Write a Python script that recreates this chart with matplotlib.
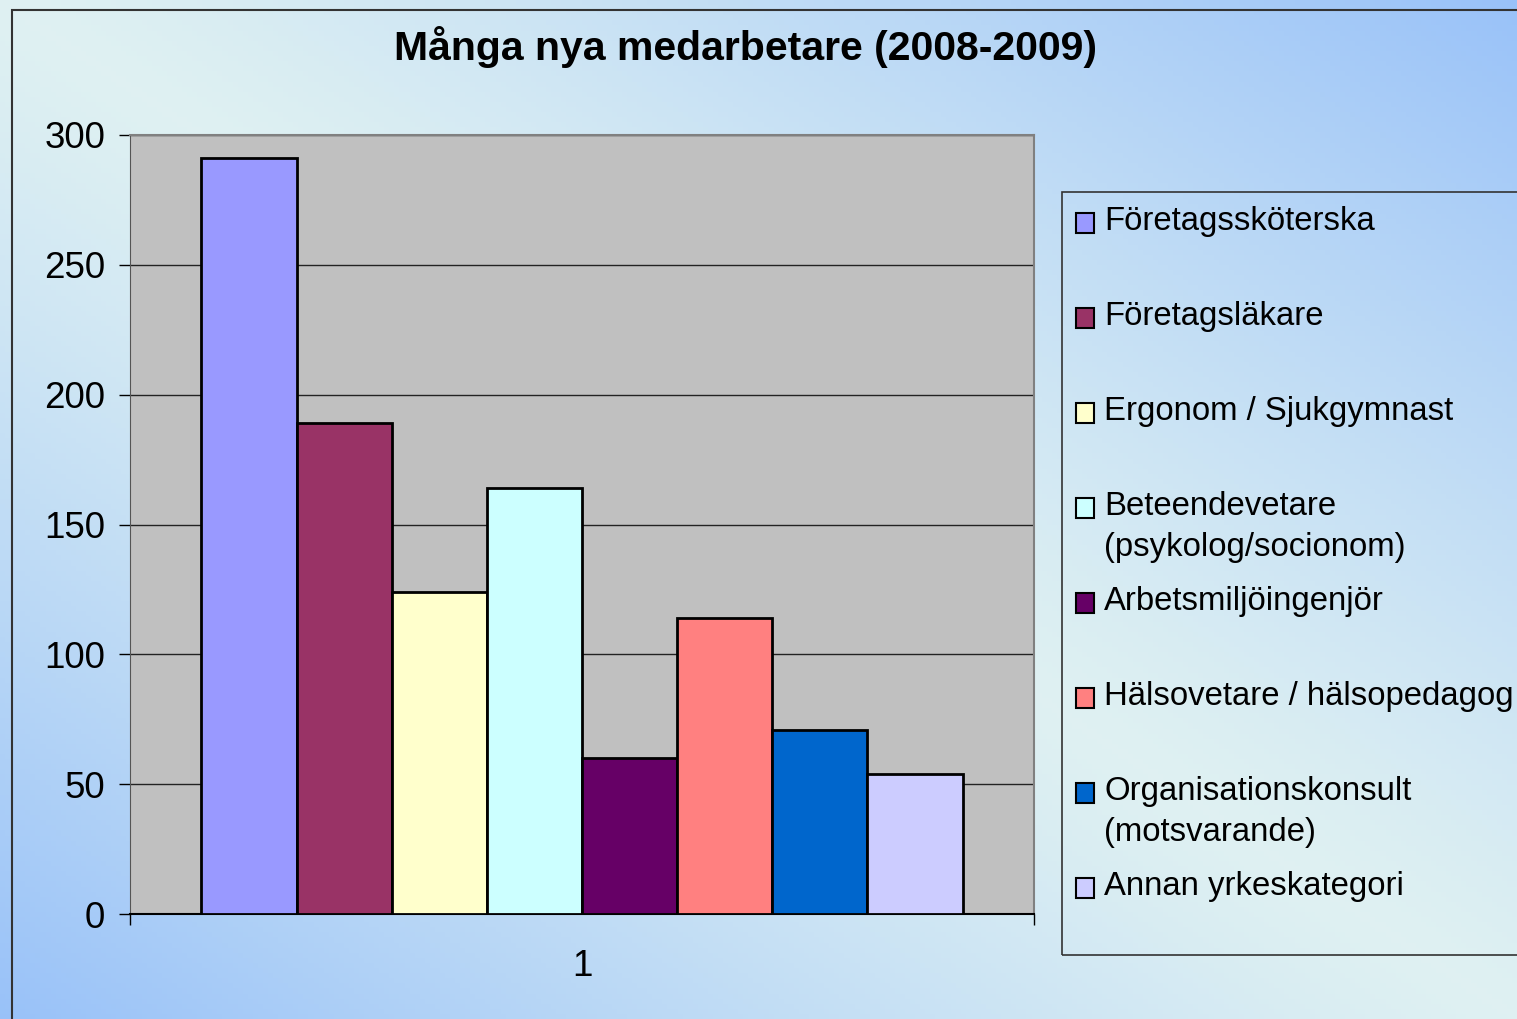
import numpy as np
import matplotlib.pyplot as plt
from matplotlib.patches import Rectangle

plt.rcParams['font.family'] = ['Liberation Sans', 'DejaVu Sans']

# data
categories = ['Företagssköterska', 'Företagsläkare', 'Ergonom / Sjukgymnast',
              'Beteendevetare\n(psykolog/socionom)', 'Arbetsmiljöingenjör',
              'Hälsovetare / hälsopedagog', 'Organisationskonsult\n(motsvarande)',
              'Annan yrkeskategori']
values = [291, 189, 124, 164, 60, 114, 71, 54]
colors = ['#9999FF', '#993366', '#FFFFCC', '#CCFFFF', '#660066',
          '#FF8080', '#0066CC', '#CCCCFF']
yticks = [0, 50, 100, 150, 200, 250, 300]
xlabel = '1'

W, H = 1517, 1019
fig = plt.figure(figsize=(W / 100, H / 100), dpi=100)

# gradient background: light along the main diagonal, blue at the other corners
bg = fig.add_axes([0, 0, 1, 1], zorder=-10)
u, v = np.meshgrid(np.linspace(0, 1, 300), np.linspace(0, 1, 200))
t = np.clip(np.abs(u - v), 0, 1) ** 1.2
light = np.array([0.875, 0.945, 0.950])
blue = np.array([0.60, 0.76, 0.975])
img = light[None, None, :] * (1 - t[..., None]) + blue[None, None, :] * t[..., None]
bg.imshow(img, aspect='auto', extent=[0, 1, 1, 0])
bg.set_xlim(0, 1)
bg.set_ylim(1, 0)
bg.axis('off')

# outer chart frame (runs off the right and bottom edges)
fig.patches.append(Rectangle((12 / W, -0.05), 1.1, 1 - 10 / H + 0.05, transform=fig.transFigure,
                             fill=False, edgecolor='#333333', lw=1.5, zorder=-5))

ax = fig.add_axes([130 / W, 1 - 914 / H, (1034 - 130) / W, (914 - 135) / H])
ax.set_facecolor('#C0C0C0')

n = len(values)
w = 1 / 9.5
xs = 1 + (np.arange(n) - (n - 1) / 2) * w
ax.bar(xs, values, width=w, color=colors, edgecolor='black', linewidth=2, zorder=3)

ax.set_xlim(0.5, 1.5)
ax.set_ylim(0, 300)
ax.set_yticks(yticks)
ax.yaxis.grid(True, color='#222222', lw=1)
ax.set_axisbelow(True)
ax.tick_params(axis='y', labelsize=26.5, length=8, width=1, pad=10)
ax.set_xticks([1])
ax.set_xticklabels([xlabel])
ax.set_xticks([0.5, 1.5], minor=True)
ax.tick_params(axis='x', which='major', length=0, labelsize=26.5, pad=25)
ax.tick_params(axis='x', which='minor', length=8, width=1)
for s in ['top', 'right']:
    ax.spines[s].set_color('#808080')
    ax.spines[s].set_linewidth(1.5)
ax.spines['left'].set_color('#555555')
ax.spines['bottom'].set_color('black')
ax.spines['bottom'].set_linewidth(1.5)

fig.text(745 / W, 1 - 47 / H, 'Många nya medarbetare (2008-2009)', ha='center', va='center',
         fontsize=29.5, fontweight='bold')

# legend box
fig.patches.append(Rectangle((1062 / W, 1 - 955 / H), 0.5, (955 - 192) / H, transform=fig.transFigure,
                             fill=False, edgecolor='#333333', lw=1.2, zorder=2))
for i, (lab, c) in enumerate(zip(categories, colors)):
    yb = 230 + 95 * i
    fig.patches.append(Rectangle((1076 / W, 1 - (yb + 3) / H), 18 / W, 20 / H, transform=fig.transFigure,
                                 facecolor=c, edgecolor='black', lw=1.5, zorder=3))
    for k, line in enumerate(lab.split('\n')):
        fig.text(1104 / W, 1 - (yb + 41 * k) / H, line, ha='left', va='baseline', fontsize=23.7)

fig.savefig('out.png', dpi=100)
